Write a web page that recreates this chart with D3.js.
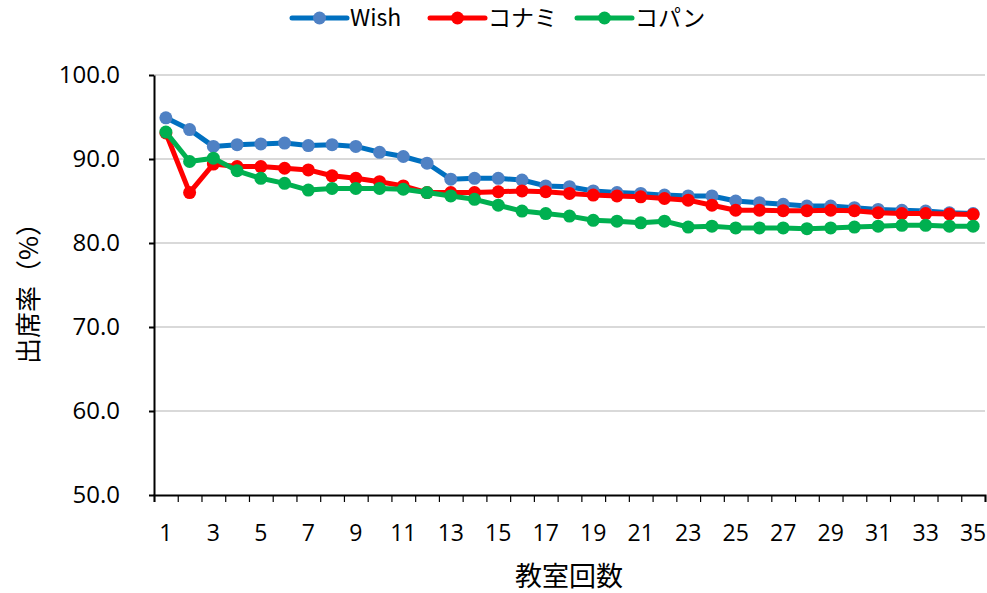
<!DOCTYPE html>
<html>
<head>
<meta charset="utf-8">
<script src="https://cdn.jsdelivr.net/npm/d3@7"></script>
<style>
  body { margin: 0; background: #fff; }
  text { font-family: "Noto Sans CJK JP", "Open Sans", sans-serif; fill: #000; }
</style>
</head>
<body>
<svg id="chart" width="987" height="593"></svg>
<script>
// categories: 教室回数 1..35
const sessions = [1,2,3,4,5,6,7,8,9,10,11,12,13,14,15,16,17,18,19,20,21,22,23,24,25,26,27,28,29,30,31,32,33,34,35];
const wish  = [94.9,93.5,91.5,91.7,91.8,91.9,91.6,91.7,91.5,90.8,90.3,89.5,87.6,87.7,87.7,87.5,86.8,86.7,86.2,86.0,85.9,85.7,85.6,85.6,85.0,84.8,84.6,84.4,84.4,84.2,84.0,83.9,83.8,83.6,83.5];
const konami = [93.1,86.0,89.4,89.1,89.1,88.9,88.7,88.0,87.7,87.3,86.8,86.0,86.0,86.0,86.1,86.2,86.1,85.9,85.7,85.6,85.5,85.3,85.1,84.5,83.9,83.9,83.85,83.85,83.9,83.85,83.6,83.5,83.5,83.45,83.4];
const kopan = [93.2,89.7,90.1,88.6,87.7,87.1,86.3,86.5,86.5,86.5,86.4,86.0,85.6,85.2,84.5,83.8,83.5,83.2,82.7,82.6,82.4,82.6,81.9,82.0,81.8,81.8,81.8,81.7,81.8,81.9,82.0,82.1,82.1,82.0,82.0];
const yTicks = [50,60,70,80,90,100];

const series = [
  {name: "Wish", values: wish, line: "#0070C0", dot: "#4F81C4"},
  {name: "コナミ", values: konami, line: "#FF0000", dot: "#FF0000"},
  {name: "コパン", values: kopan, line: "#00B050", dot: "#00B050"}
];

const svg = d3.select("#chart");
const mLeft = 154, mRight = 985, mTop = 75, mBottom = 495;

const x = d3.scaleBand().domain(sessions).range([mLeft, mRight]).padding(0);
const y = d3.scaleLinear().domain([50, 100]).range([mBottom, mTop]);
const cx = d => x(d) + x.bandwidth() / 2;

// gridlines
svg.append("g").selectAll("line")
  .data(yTicks.filter(t => t > 50))
  .join("line")
  .attr("x1", mLeft).attr("x2", mRight)
  .attr("y1", d => y(d)).attr("y2", d => y(d))
  .attr("stroke", "#d9d9d9").attr("stroke-width", 2);

// y axis
const yAxis = svg.append("g")
  .attr("transform", `translate(${mLeft},0)`)
  .call(d3.axisLeft(y).tickValues(yTicks).tickFormat(d3.format(".1f")).tickSize(5).tickSizeOuter(0));
yAxis.select(".domain").attr("stroke", "#000").attr("stroke-width", 2);
yAxis.selectAll(".tick line").attr("stroke", "#000").attr("stroke-width", 2);
yAxis.selectAll(".tick text").attr("x", -34).attr("font-size", 24)
  .style("font-family", "'Open Sans', sans-serif");

// x axis: boundary ticks
const bounds = d3.scaleLinear().domain([0, sessions.length]).range([mLeft, mRight]);
const xTickG = svg.append("g")
  .attr("transform", `translate(0,${mBottom})`)
  .call(d3.axisBottom(bounds).tickValues(d3.range(sessions.length + 1)).tickSize(7).tickFormat(""));
xTickG.select(".domain").attr("stroke", "#000").attr("stroke-width", 2);
xTickG.selectAll(".tick line").attr("stroke", "#000").attr("stroke-width", 1.2);

// x labels on odd sessions
const xLab = svg.append("g")
  .attr("transform", `translate(0,${mBottom})`)
  .call(d3.axisBottom(x).tickValues(sessions.filter(d => d % 2 === 1)).tickSize(0).tickPadding(30));
xLab.select(".domain").remove();
xLab.selectAll(".tick text").attr("font-size", 23)
  .style("font-family", "'Open Sans', sans-serif");

// lines and markers
const line = d3.line().x((d, i) => cx(sessions[i])).y(d => y(d));
series.forEach(s => {
  svg.append("path")
    .datum(s.values)
    .attr("fill", "none")
    .attr("stroke", s.line)
    .attr("stroke-width", 5)
    .attr("stroke-linejoin", "round")
    .attr("d", line);
  svg.append("g").selectAll("circle")
    .data(s.values)
    .join("circle")
    .attr("cx", (d, i) => cx(sessions[i]))
    .attr("cy", d => y(d))
    .attr("r", 6.5)
    .attr("fill", s.dot);
});

// axis titles
svg.append("text")
  .attr("transform", `translate(38,287) rotate(-90)`)
  .attr("text-anchor", "middle")
  .attr("font-size", 26)
  .text("出席率（%）");
svg.append("text")
  .attr("x", 569)
  .attr("y", 586)
  .attr("text-anchor", "middle")
  .attr("font-size", 27)
  .text("教室回数");

// legend
const legendX = [292, 430, 577];
const lg = svg.append("g").selectAll("g")
  .data(series)
  .join("g")
  .attr("transform", (d, i) => `translate(${legendX[i]},18)`);
lg.append("line")
  .attr("x1", 0).attr("x2", 55).attr("y1", 0).attr("y2", 0)
  .attr("stroke", d => d.line).attr("stroke-width", 5).attr("stroke-linecap", "round");
lg.append("circle").attr("cx", 27.5).attr("cy", 0).attr("r", 6.5).attr("fill", d => d.dot);
lg.append("text")
  .attr("x", 58).attr("y", 0).attr("dy", "0.35em")
  .attr("font-size", 23)
  .text(d => d.name);
</script>
</body>
</html>
